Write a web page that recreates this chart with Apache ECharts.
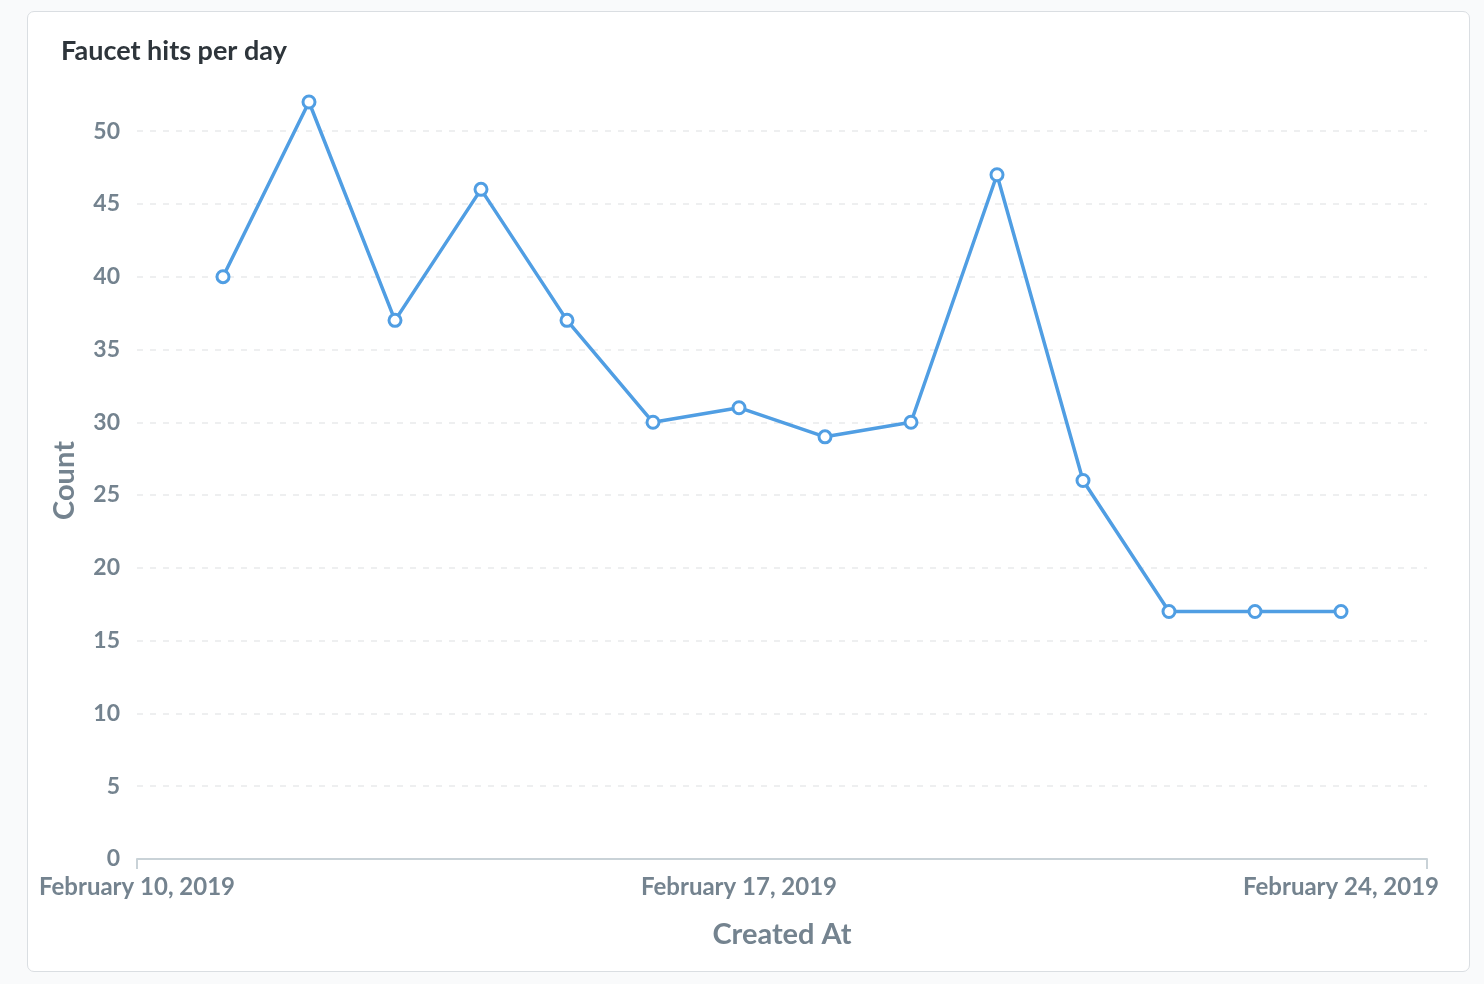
<!DOCTYPE html>
<html>
<head>
<meta charset="utf-8">
<script src="https://cdn.jsdelivr.net/npm/echarts@6/dist/echarts.min.js"></script>
<style>
  html, body { margin: 0; padding: 0; background: #f9fafb; width: 1484px; height: 984px; overflow: hidden; }
  #card { position: absolute; left: 27px; top: 11px; width: 1441px; height: 959px; background: #fff; border: 1px solid #dadee2; border-radius: 7px; }
  #chart { position: absolute; left: 0; top: 0; width: 1484px; height: 984px; }
</style>
</head>
<body>
<div id="card"></div>
<div id="chart"></div>
<script>
const title = 'Faucet hits per day';
const xAxisName = 'Created At';
const yAxisName = 'Count';
const dates = ['2019-02-11','2019-02-12','2019-02-13','2019-02-14','2019-02-15','2019-02-16','2019-02-17',
               '2019-02-18','2019-02-19','2019-02-20','2019-02-21','2019-02-22','2019-02-23','2019-02-24'];
const counts = [40, 52, 37, 46, 37, 30, 31, 29, 30, 47, 26, 17, 17, 17];
const xLabelDates = ['2019-02-10', '2019-02-17', '2019-02-24'];
const xRange = ['2019-02-10', '2019-02-25'];
const monthNames = ['January','February','March','April','May','June','July','August','September','October','November','December'];

function ts(s) { const p = s.split('-').map(Number); return new Date(p[0], p[1] - 1, p[2]).getTime(); }
function fmt(v) { const d = new Date(v); return monthNames[d.getMonth()] + ' ' + d.getDate() + ', ' + d.getFullYear(); }

const labelColor = '#74838f';
const font = 'Lato, "Noto Sans", sans-serif';

const chart = echarts.init(document.getElementById('chart'));
chart.setOption({
  animation: false,
  textStyle: { fontFamily: font },
  title: {
    text: title, left: 61, top: 38, padding: 0,
    textStyle: { fontFamily: font, fontSize: 27, fontWeight: 'bold', color: '#2e353b' }
  },
  grid: { left: 137, right: 57, top: 102, bottom: 125, containLabel: false },
  xAxis: {
    type: 'value',
    min: ts(xRange[0]), max: ts(xRange[1]),
    name: xAxisName, nameLocation: 'middle', nameGap: 61,
    nameTextStyle: { fontFamily: font, fontSize: 29, fontWeight: 'bold', color: labelColor },
    axisLine: { show: true, lineStyle: { color: '#c9d2d7', width: 2 } },
    axisTick: { show: true, length: 10, lineStyle: { color: '#c9d2d7', width: 2 }, customValues: xRange.map(ts) },
    axisLabel: {
      customValues: xLabelDates.map(ts), formatter: fmt, margin: 16,
      fontFamily: font, fontSize: 24, fontWeight: 'bold', color: labelColor
    },
    splitLine: { show: false }
  },
  yAxis: {
    type: 'value', min: 0, max: 52, interval: 5,
    name: yAxisName, nameLocation: 'middle', nameGap: 58,
    nameTextStyle: { fontFamily: font, fontSize: 29, fontWeight: 'bold', color: labelColor },
    axisLine: { show: false }, axisTick: { show: false },
    axisLabel: { showMaxLabel: false, margin: 17, fontFamily: font, fontSize: 23, fontWeight: 'bold', color: labelColor },
    splitLine: { show: true, showMaxLine: false, showMinLine: false, lineStyle: { color: '#e9eaec', width: 1.5, type: [6, 7] } }
  },
  series: [{
    type: 'line',
    data: dates.map((d, i) => [ts(d), counts[i]]),
    symbol: 'circle', symbolSize: 12, showAllSymbol: true,
    lineStyle: { color: '#509ee3', width: 3.5 },
    itemStyle: { color: '#ffffff', borderColor: '#509ee3', borderWidth: 3 }
  }]
});
</script>
</body>
</html>
